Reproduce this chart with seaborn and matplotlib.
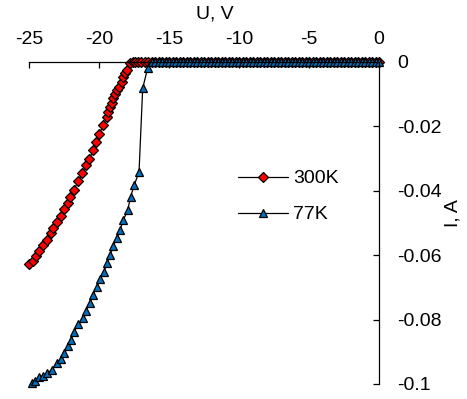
import matplotlib
matplotlib.use("Agg")
import matplotlib.pyplot as plt
import seaborn as sns
import pandas as pd

# ---- data ----
series_names = ["300K", "77K"]

u_300_slope = [-24.98, -24.74, -24.50, -24.26, -23.98, -23.74, -23.45, -23.31, -23.02, -22.74,
               -22.48, -22.19, -22.05, -21.81, -21.48, -21.19, -20.93, -20.69, -20.41, -20.24,
               -19.98, -19.69, -19.45, -19.34, -19.21, -19.10, -18.98, -18.86, -18.74, -18.55,
               -18.38, -18.26, -18.14, -17.98, -17.79]
i_300_slope = [-0.0627, -0.0617, -0.0602, -0.0587, -0.0568, -0.0553, -0.0532, -0.0515, -0.0498, -0.0478,
               -0.0458, -0.0437, -0.0418, -0.0398, -0.0370, -0.0344, -0.0320, -0.0302, -0.0273, -0.0248,
               -0.0225, -0.0195, -0.0170, -0.0154, -0.0141, -0.0126, -0.0113, -0.0099, -0.0087, -0.0077,
               -0.0061, -0.0046, -0.0035, -0.0025, -0.0004]

u_77_slope = [-24.81, -24.57, -24.26, -24.02, -23.74, -23.38, -23.02, -22.74, -22.50, -22.19,
              -22.00, -21.79, -21.48, -21.17, -20.93, -20.64, -20.45, -20.17, -19.93, -19.64,
              -19.41, -19.20, -18.98, -18.74, -18.50, -18.26, -17.95, -17.74, -17.48, -17.14,
              -16.88, -16.52]
i_77_slope = [-0.0996, -0.0990, -0.0979, -0.0975, -0.0967, -0.0957, -0.0936, -0.0923, -0.0905, -0.0882,
              -0.0863, -0.0838, -0.0814, -0.0796, -0.0772, -0.0748, -0.0724, -0.0700, -0.0675, -0.0651,
              -0.0623, -0.0599, -0.0571, -0.0548, -0.0522, -0.0491, -0.0460, -0.0418, -0.0382, -0.0341,
              -0.0082, -0.0018]

# flat (zero-current) part of both curves
u_300_flat = [-17.6, -17.4, -17.2, -17.0,
              -16.75, -16.5, -16.25, -16.0, -15.75, -15.5, -15.25, -15.0, -14.75, -14.5, -14.25,
              -14.0, -13.75, -13.5, -13.25, -13.0, -12.75, -12.5, -12.25, -12.0, -11.75, -11.5,
              -11.25, -11.0, -10.75, -10.5, -10.25, -10.0, -9.75, -9.5, -9.25, -9.0, -8.75, -8.5,
              -8.25, -8.0, -7.75, -7.5, -7.25, -7.0, -6.75, -6.5, -6.25, -6.0, -5.75, -5.5, -5.25,
              -5.0, -4.75, -4.5, -4.25, -4.0, -3.75, -3.5, -3.25, -3.0, -2.75, -2.5, -2.25, -2.0,
              -1.75, -1.5, -1.25, -1.0, -0.75, -0.5, -0.25, 0.0]
i_300_flat = [0.0] * len(u_300_flat)
u_77_flat = [-16.25, -16.0, -15.75, -15.5, -15.25, -15.0, -14.75, -14.5, -14.25,
             -14.0, -13.75, -13.5, -13.25, -13.0, -12.75, -12.5, -12.25, -12.0, -11.75, -11.5,
             -11.25, -11.0, -10.75, -10.5, -10.25, -10.0, -9.75, -9.5, -9.25, -9.0, -8.75, -8.5,
             -8.25, -8.0, -7.75, -7.5, -7.25, -7.0, -6.75, -6.5, -6.25, -6.0, -5.75, -5.5, -5.25,
             -5.0, -4.75, -4.5, -4.25, -4.0, -3.75, -3.5, -3.25, -3.0, -2.75, -2.5, -2.25, -2.0,
             -1.75, -1.5, -1.25, -1.0, -0.75, -0.5, -0.25, 0.0]
i_77_flat = [0.0] * len(u_77_flat)

x_ticks = [-25, -20, -15, -10, -5, 0]
x_tick_labels = ["-25", "-20", "-15", "-10", "-5", "0"]
y_ticks = [0, -0.02, -0.04, -0.06, -0.08, -0.1]
y_tick_labels = ["0", "-0.02", "-0.04", "-0.06", "-0.08", "-0.1"]

# ---- style ----
sns.set_theme(style="white")
plt.rcParams["font.family"] = ["Liberation Sans", "DejaVu Sans"]
FS = 14

fig = plt.figure(figsize=(4.67, 3.99), dpi=100)
ax = fig.add_axes([29 / 467, 1 - 384 / 399, 350 / 467, 322 / 399])

df300 = pd.DataFrame({"U": u_300_slope + u_300_flat, "I": i_300_slope + i_300_flat})
df77 = pd.DataFrame({"U": u_77_slope + u_77_flat, "I": i_77_slope + i_77_flat})

sns.lineplot(data=df300, x="U", y="I", ax=ax, estimator=None, sort=False,
             color="black", linewidth=0.9, marker="D", markersize=4.8,
             markerfacecolor="#FF0000", markeredgecolor="black", markeredgewidth=0.9,
             label=series_names[0], clip_on=False)
sns.lineplot(data=df77, x="U", y="I", ax=ax, estimator=None, sort=False,
             color="black", linewidth=0.9, marker="^", markersize=5.8,
             markerfacecolor="#0070C0", markeredgecolor="black", markeredgewidth=0.9,
             label=series_names[1], clip_on=False)

ax.set_xlim(-25, 0)
ax.set_ylim(-0.1, 0)
ax.set_xticks(x_ticks, labels=x_tick_labels)
ax.set_yticks(y_ticks, labels=y_tick_labels)
ax.xaxis.tick_top()
ax.yaxis.tick_right()
ax.grid(False)
for s in ["left", "bottom"]:
    ax.spines[s].set_visible(False)
for s in ["top", "right"]:
    ax.spines[s].set_visible(True)
    ax.spines[s].set_color("black")
    ax.spines[s].set_linewidth(0.9)
ax.tick_params(axis="x", which="both", direction="in", length=4, width=0.9,
               color="black", labelsize=FS, labelcolor="black", pad=10,
               top=True, bottom=False, labeltop=True, labelbottom=False)
ax.tick_params(axis="y", which="both", direction="in", length=4, width=0.9,
               color="black", labelsize=FS, labelcolor="black", pad=13,
               right=True, left=False, labelright=True, labelleft=False)

ax.set_xlabel("U, V", fontsize=FS, color="black")
ax.xaxis.set_label_position("top")
ax.xaxis.set_label_coords(0.531, 1.149)
ax.xaxis.label.set_va("center")
ax.xaxis.label.set_ha("center")

ax.set_ylabel("I, A", fontsize=FS, color="black")
ax.yaxis.set_label_position("right")
ax.yaxis.set_label_coords(1.212, 0.531)
ax.yaxis.label.set_rotation(90)
ax.yaxis.label.set_rotation_mode("default")
ax.yaxis.label.set_va("center")
ax.yaxis.label.set_ha("center")

ax.legend(loc="center left", bbox_to_anchor=(0.597, 0.582), frameon=False,
          borderpad=0, borderaxespad=0, handlelength=2.57, handletextpad=0.26,
          labelspacing=0.95, fontsize=FS, labelcolor="black")

fig.savefig("out.png", dpi=100)
